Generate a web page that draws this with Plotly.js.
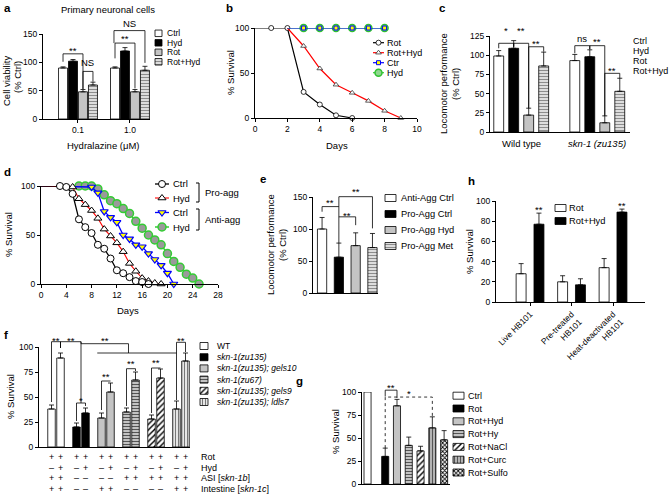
<!DOCTYPE html>
<html>
<head>
<meta charset="utf-8">
<script src="https://cdn.plot.ly/plotly-3.0.1.min.js"></script>
<style>html,body{margin:0;padding:0;background:#fff}#chart{width:670px;height:498px}</style>
</head>
<body>
<div id="chart"></div>
<script>
// multi-panel figure (a-h), hydralazine / skn-1 survival and locomotion
const W = 670, H = 498;
const FONT = 'Liberation Sans, Arial, Helvetica, sans-serif';

// ---------- data ----------
// a: primary neuronal cells
const aDoses = ['0.1', '1.0'];
const aGroups = ['Ctrl', 'Hyd', 'Rot', 'Rot+Hyd'];
const aViability = [[90, 90], [102, 120], [48, 48], [60, 86]];
const aErr = [[2, 2], [3, 6], [4, 4], [5, 7]];

// b: survival on rotenone
const bRotDays = [0, 1, 2, 3, 4, 5, 6];
const bRot = [100, 100, 100, 29, 15, 3, 0];
const bRotHydDays = [2, 3, 4, 5, 6, 7, 8, 9];
const bRotHyd = [100, 80, 55, 37, 28, 19, 8, 0];
const bCtrDays = [2, 3, 4, 5, 6, 7, 8];
const bCtr = [100, 100, 100, 100, 100, 100, 100];
const bHyd = [100, 100, 100, 100, 100, 100, 100];

// c: locomotor performance
const cStrains = ['Wild type', '<i>skn-1 (zu135)</i>'];
const cLoco = [[99, 93], [109, 98], [22, 12], [86, 53]];
const cErr = [[7, 8], [10, 9], [9, 9], [18, 17]];

// d: lifespan, pro- and anti-aggregation strains
const dProCtrlDays = [0, 3, 4, 5, 6, 7, 8, 9, 10, 11, 12, 13, 14, 15, 16, 17];
const dProCtrl = [100, 100, 99, 92, 66, 58, 52, 40, 36, 26, 14, 11, 7, 3, 2, 0];
const dProHydDays = [0, 5, 6, 7, 8, 9, 10, 11, 12, 13, 14, 15, 16, 17, 18, 19];
const dProHyd = [100, 99, 87, 81, 75, 67, 56, 49, 42, 33, 21, 13, 6, 3, 1, 0];
const dAntiCtrlDays = [0, 8, 9, 10, 11, 12, 13, 14, 15, 16, 17, 18, 19, 20, 21];
const dAntiCtrl = [100, 99, 93, 74, 68, 63, 50, 46, 40, 38, 31, 25, 19, 11, 0];
const dAntiHydDays = [0, 6, 7, 8, 9, 10, 11, 12, 13, 14, 15, 16, 17, 18, 19, 20, 21, 22, 23, 24, 25];
const dAntiHyd = [100, 100, 100, 100, 97, 91, 85, 82, 77, 72, 64, 57, 50, 45, 40, 31, 23, 17, 10, 6, 0];

// e
const eGroups = ['Anti-Agg Ctrl', 'Pro-Agg Ctrl', 'Pro-Agg Hyd', 'Pro-Agg Met'];
const eLoco = [100, 56, 74, 71];
const eErr = [18, 22, 20, 22];

// f
const fStrains = ['WT', '<i>skn-1(zu135)</i>', '<i>skn-1(zu135); gels10</i>', '<i>skn-1(zu67)</i>',
                  '<i>skn-1(zu135); gels9</i>', '<i>skn-1(zu135); ldls7</i>'];
const fRot = [38, 20, 29, 35, 28, 38];
const fRotErr = [4, 4, 5, 4, 4, 8];
const fRotHyd = [89, 34, 55, 67, 69, 86];
const fRotHydErr = [5, 5, 9, 8, 9, 8];
const fRowLabels = ['Rot', 'Hyd', 'ASI [<i>skn-1b</i>]', 'Intestine [<i>skn-1c</i>]'];
const fRows = [
  ['++', '++', '++', '++', '++', '++'],
  ['-+', '-+', '-+', '-+', '-+', '-+'],
  ['++', '--', '--', '++', '++', '++'],
  ['++', '--', '++', '--', '--', '++']
];

// g
const gGroups = ['Ctrl', 'Rot', 'Rot+Hyd', 'Rot+Hy', 'Rot+NaCl', 'Rot+Curc', 'Rot+Sulfo'];
const gSurv = [100, 30, 85, 42, 36, 61, 48];
const gErr = [0, 9, 7, 9, 5, 12, 10];

// h
const hFood = ['Live HB101', 'Pre-treated<br>HB101', 'Heat-deactivated<br>HB101'];
const hRot = [28, 20, 34];
const hRotErr = [10, 6, 9];
const hRotHyd = [77, 17, 89];
const hRotHydErr = [11, 6, 3];

// ---------- layout helpers ----------
// plot areas in pixels
const PANELS = {
  a: {n: '',  l: 43,  r: 150, t: 34,  b: 119, xr: [-0.673, 1.385], yr: [0, 150]},
  b: {n: '2', l: 255, r: 417, t: 28,  b: 118, xr: [0, 10], yr: [0, 100]},
  c: {n: '3', l: 490, r: 630, t: 36,  b: 132, xr: [-0.41, 1.43], yr: [0, 125]},
  d: {n: '4', l: 41,  r: 218, t: 186, b: 284, xr: [0, 28], yr: [0, 100]},
  e: {n: '5', l: 313, r: 378, t: 197, b: 293, xr: [-0.54, 3.33], yr: [0, 150]},
  f: {n: '6', l: 39,  r: 190, t: 347, b: 447, xr: [-0.68, 5.36], yr: [0, 100]},
  g: {n: '7', l: 362, r: 450, t: 392, b: 484, xr: [-0.47, 7.0], yr: [0, 100]},
  h: {n: '8', l: 496, r: 645, t: 201, b: 302, xr: [-0.82, 2.77], yr: [0, 100]}
};
const aX = (i, k) => i + (k - 1.5) * 0.192;
const cX = (i, k) => i + (k - 1.5) * 0.197;
const fX = (i, k) => i + (k === 0 ? -0.18 : 0.18);
const gX = k => (k === 0 ? 0 : k + 0.5);
const hX = (i, k) => i + (k === 0 ? -0.215 : 0.215);

const traces = [], shapes = [], annotations = [];
const layout = {
  width: W, height: H, margin: {l: 0, r: 0, t: 0, b: 0},
  paper_bgcolor: '#fff', plot_bgcolor: 'rgba(0,0,0,0)',
  showlegend: false, barmode: 'overlay',
  font: {family: FONT, size: 8.5, color: '#000'},
  shapes, annotations
};
const AX = {showline: true, linecolor: '#000', linewidth: 1, ticks: 'outside', ticklen: 3, tickwidth: 1,
  tickcolor: '#000', showgrid: false, zeroline: false, fixedrange: true,
  tickfont: {family: FONT, size: 8.5, color: '#000'}};

function axes(p, xo, yo) {
  const P = PANELS[p];
  layout['xaxis' + P.n] = Object.assign({}, AX, {domain: [P.l / W, P.r / W], range: P.xr, anchor: 'y' + P.n}, xo);
  layout['yaxis' + P.n] = Object.assign({}, AX, {domain: [1 - P.b / H, 1 - P.t / H], range: P.yr, anchor: 'x' + P.n}, yo);
}
const xp = (p, v) => { const P = PANELS[p]; return P.l + (v - P.xr[0]) / (P.xr[1] - P.xr[0]) * (P.r - P.l); };
const yp = (p, v) => { const P = PANELS[p]; return P.b - (v - P.yr[0]) / (P.yr[1] - P.yr[0]) * (P.b - P.t); };

function txt(x, y, text, o) {
  annotations.push(Object.assign({xref: 'paper', yref: 'paper', x: x / W, y: 1 - y / H, text, showarrow: false,
    xanchor: 'center', yanchor: 'middle', borderpad: 0, font: {family: FONT, size: 9.5, color: '#000'}}, o));
}
function vtxt(x, y, text, size) { txt(x, y, text, {textangle: -90, font: {family: FONT, size: size || 9.5, color: '#000'}}); }
function path(pts, o) {
  shapes.push(Object.assign({type: 'path', xref: 'paper', yref: 'paper',
    path: 'M' + pts.map(q => (q[0] / W) + ',' + (1 - q[1] / H)).join('L'),
    line: {color: '#000', width: 0.8}}, o));
}
// bracket in data units of panel p
function bracket(p, x1, x2, top, y1, y2, o) {
  path([[xp(p, x1), yp(p, y1)], [xp(p, x1), yp(p, top)], [xp(p, x2), yp(p, top)], [xp(p, x2), yp(p, y2)]], o);
}
// significance mark, y = glyph centre in data units
function star(p, x, y, text) {
  const shift = text.indexOf('*') >= 0 ? 2 : 0;
  txt(xp(p, x), yp(p, y) + shift, text, {font: {family: FONT, size: 9.5, color: '#000'}});
}

const EDGE = {color: '#000', width: 0.8};
const S = {
  white: {color: '#fff'},
  black: {color: '#000'},
  gray: {color: '#c4c4c4'},
  hstripe: {color: '#e4e4e4', pattern: {shape: '-', fillmode: 'replace', bgcolor: '#e6e6e6', fgcolor: '#8c8c8c', size: 3, solidity: 0.4}},
  hstripeDark: {color: '#ccc', pattern: {shape: '-', fillmode: 'replace', bgcolor: '#cfcfcf', fgcolor: '#555', size: 3, solidity: 0.4}},
  diag: {color: '#fff', pattern: {shape: '/', fillmode: 'replace', bgcolor: '#fff', fgcolor: '#000', size: 4, solidity: 0.35}},
  vstripe: {color: '#eee', pattern: {shape: '|', fillmode: 'replace', bgcolor: '#f2f2f2', fgcolor: '#777', size: 3, solidity: 0.4}},
  vstripeGray: {color: '#bbb', pattern: {shape: '|', fillmode: 'replace', bgcolor: '#bdbdbd', fgcolor: '#555', size: 3, solidity: 0.4}},
  check: {color: '#fff', pattern: {shape: 'x', fillmode: 'replace', bgcolor: '#fff', fgcolor: '#000', size: 3, solidity: 0.5}}
};

function addBars(p, xs, ys, errs, w, style) {
  const n = PANELS[p].n;
  const t = {type: 'bar', xaxis: 'x' + n, yaxis: 'y' + n, x: xs, y: ys, width: w,
    marker: Object.assign({line: EDGE}, style), hoverinfo: 'skip', showlegend: false, cliponaxis: false};
  if (errs) t.error_y = {type: 'data', symmetric: false, array: errs, arrayminus: errs.map(() => 0),
    color: '#000', thickness: 0.8, width: 2.5};
  traces.push(t);
}
function series(p, xs, ys, st) {
  const n = PANELS[p].n;
  traces.push({type: 'scatter', mode: 'lines+markers', xaxis: 'x' + n, yaxis: 'y' + n, x: xs, y: ys,
    line: st.line, marker: Object.assign({}, st.marker, {opacity: xs.map((_, i) => (i === 0 ? 0 : 1))}),
    cliponaxis: false, hoverinfo: 'skip', showlegend: false});
}
// legend pieces drawn on a full-page pixel axis
layout.xaxis9 = {domain: [0, 1], range: [0, W], visible: false, fixedrange: true, anchor: 'y9'};
layout.yaxis9 = {domain: [0, 1], range: [H, 0], visible: false, fixedrange: true, anchor: 'x9'};
function swatch(x, y, w, h, style) {
  traces.push({type: 'bar', xaxis: 'x9', yaxis: 'y9', x: [x + w / 2], y: [h], base: [y - h / 2], width: [w],
    marker: Object.assign({line: EDGE}, style), hoverinfo: 'skip', showlegend: false});
}
function lineKey(x0, x1, y, st) {
  traces.push({type: 'scatter', mode: 'lines', xaxis: 'x9', yaxis: 'y9', x: [x0, x1], y: [y, y], line: st.line, hoverinfo: 'skip', showlegend: false});
  traces.push({type: 'scatter', mode: 'markers', xaxis: 'x9', yaxis: 'y9', x: [(x0 + x1) / 2], y: [y], marker: st.marker, hoverinfo: 'skip', showlegend: false});
}
const LEG = size => ({xanchor: 'left', font: {family: FONT, size: size || 9, color: '#000'}});

// ---------- panel letters ----------
[['a', 3, 8], ['b', 225, 8], ['c', 438, 8], ['d', 3, 172], ['e', 259, 179], ['f', 3, 335], ['g', 295, 381], ['h', 467, 181]]
  .forEach(l => txt(l[1], l[2], '<b>' + l[0] + '</b>', {xanchor: 'left', font: {family: FONT, size: 11.5, color: '#000'}}));

// ---------- a ----------
axes('a', {tickvals: [0, 1], ticktext: aDoses}, {tickvals: [0, 50, 100, 150]});
const aStyles = [S.white, S.black, S.gray, S.hstripe];
aGroups.forEach((g, k) => addBars('a', aDoses.map((_, i) => aX(i, k)), aViability[k], aErr[k], 0.173, aStyles[k]));
txt(108, 9, 'Primary neuronal cells');
txt(103, 145, 'Hydralazine (\u03bcM)');
vtxt(6, 81, 'Cell viability');
vtxt(17, 77, '(% Ctrl)');
aGroups.forEach((g, k) => { swatch(155, 33.3 + k * 9.5, 7, 6.5, aStyles[k]); txt(166, 33.3 + k * 9.5, g, LEG(8.5)); });
bracket('a', aX(0, 0), aX(0, 2), 115, 101, 53);
star('a', (aX(0, 0) + aX(0, 2)) / 2, 125, '**');
bracket('a', aX(0, 2), aX(0, 3), 84, 53, 66);
star('a', (aX(0, 2) + aX(0, 3)) / 2, 99, 'NS');
bracket('a', aX(1, 0), aX(1, 2), 134, 107, 54);
star('a', (aX(1, 0) + aX(1, 2)) / 2, 145, '**');
bracket('a', aX(1, 0) - 0.02, aX(1, 3), 156, 134, 99);
star('a', (aX(1, 0) + aX(1, 3)) / 2, 169, 'NS');

// ---------- b ----------
axes('b', {dtick: 2}, {tickvals: [0, 50, 100]});
const bSt = {
  rot: {line: {color: '#000', width: 1.2}, marker: {symbol: 'circle', size: 5, color: '#fff', line: {color: '#000', width: 0.8}}},
  rotHyd: {line: {color: '#ff0000', width: 1.2}, marker: {symbol: 'triangle-up', size: 5, color: '#fff', line: {color: '#333', width: 0.8}}},
  ctr: {line: {color: '#0000ff', width: 1.2}, marker: {symbol: 'square', size: 4, color: '#ffff00', line: {color: '#0000ff', width: 1}}},
  hyd: {line: {color: '#33cc33', width: 1.2}, marker: {symbol: 'circle', size: 7, color: '#8fd68f', line: {color: '#2fc02f', width: 1.5}}}
};
series('b', bRotDays, bRot, bSt.rot);
series('b', bRotHydDays, bRotHyd, bSt.rotHyd);
series('b', bCtrDays, bHyd, bSt.hyd);
series('b', bCtrDays, bCtr, bSt.ctr);
vtxt(230, 73, '% Survival');
txt(337, 145, 'Days');
[['Rot', bSt.rot], ['Rot+Hyd', bSt.rotHyd], ['Ctr', bSt.ctr], ['Hyd', bSt.hyd]].forEach((e, k) => {
  lineKey(373, 384, 42.7 + k * 10, e[1]); txt(386, 42.7 + k * 10, e[0], LEG(9));
});

// ---------- c ----------
axes('c', {ticks: '', showticklabels: false}, {tickvals: [0, 25, 50, 75, 100, 125]});
const cStyles = [S.white, S.black, S.gray, S.hstripe];
aGroups.forEach((g, k) => addBars('c', cStrains.map((_, i) => cX(i, k)), cLoco[k], cErr[k], 0.13, cStyles[k]));
cStrains.forEach((s, i) => txt(xp('c', i), 143, s));
vtxt(443, 84, 'Locomotor performance');
vtxt(455, 84, '(% Ctrl)');
aGroups.forEach((g, k) => txt(632, 41 + k * 10, g, LEG(9)));
bracket('c', cX(0, 0), cX(0, 1), 115.5, 109, 111);
bracket('c', cX(0, 1), cX(0, 2), 115.5, 111, 31);
bracket('c', cX(0, 2), cX(0, 3), 111, 31, 104.6);
star('c', (cX(0, 0) + cX(0, 1)) / 2, 135, '*');
star('c', (cX(0, 1) + cX(0, 2)) / 2, 135, '**');
star('c', (cX(0, 2) + cX(0, 3)) / 2, 117.6, '**');
bracket('c', cX(1, 0), cX(1, 1), 112.4, 102.5, 107.7);
bracket('c', cX(1, 1), cX(1, 2), 112.4, 107.7, 21);
bracket('c', cX(1, 2), cX(1, 3), 76.4, 21, 70);
star('c', (cX(1, 0) + cX(1, 1)) / 2, 122, 'ns');
star('c', (cX(1, 1) + cX(1, 2)) / 2, 120.7, '**');
star('c', (cX(1, 2) + cX(1, 3)) / 2, 83, '**');

// ---------- d ----------
axes('d', {dtick: 4}, {tickvals: [0, 50, 100]});
const dSt = {
  proCtrl: {line: {color: '#000', width: 1.3}, marker: {symbol: 'circle', size: 7, color: '#fff', line: {color: '#000', width: 1}}},
  proHyd: {line: {color: '#ff0000', width: 1.1}, marker: {symbol: 'triangle-up', size: 7, color: '#fff', line: {color: '#000', width: 1}}},
  antiCtrl: {line: {color: '#0000ff', width: 1.3}, marker: {symbol: 'triangle-down', size: 7, color: '#ffff00', line: {color: '#0000ff', width: 1.2}}},
  antiHyd: {line: {color: '#33cc33', width: 1.5}, marker: {symbol: 'circle', size: 8, color: '#9a9a9a', line: {color: '#33cc33', width: 1.5}}}
};
series('d', dAntiHydDays, dAntiHyd, dSt.antiHyd);
series('d', dAntiCtrlDays, dAntiCtrl, dSt.antiCtrl);
series('d', dProHydDays, dProHyd, dSt.proHyd);
series('d', dProCtrlDays, dProCtrl, dSt.proCtrl);
vtxt(8, 235, '% Survival');
txt(128, 310, 'Days');
[['Ctrl', dSt.proCtrl], ['Hyd', dSt.proHyd], ['Ctrl', dSt.antiCtrl], ['Hyd', dSt.antiHyd]].forEach((e, k) => {
  const y = [184, 198, 212.5, 227][k];
  lineKey(155, 169, y, e[1]); txt(172, y, e[0], LEG(9.5));
});
path([[196, 183], [199, 183], [199, 202], [196, 202]], {line: {color: '#000', width: 1}});
path([[196, 209], [199, 209], [199, 230], [196, 230]], {line: {color: '#000', width: 1}});
txt(204, 193, 'Pro-agg', LEG(9.5));
txt(204, 220, 'Anti-agg', LEG(9.5));

// ---------- e ----------
axes('e', {ticks: '', showticklabels: false}, {tickvals: [0, 50, 100, 150]});
const eStyles = [S.white, S.black, S.gray, S.hstripe];
eGroups.forEach((g, k) => addBars('e', [k], [eLoco[k]], [eErr[k]], 0.55, eStyles[k]));
vtxt(270, 245, 'Locomotor performance');
vtxt(282, 245, '(% Ctrl)');
eGroups.forEach((g, k) => { const y = 198 + k * 16; swatch(385, y, 11, 7, eStyles[k]); txt(400, y, g, LEG(9.3)); });
bracket('e', 0, 1, 135, 127, 135);
path([[xp('e', 1), yp('e', eLoco[1] + eErr[1])], [xp('e', 1), yp('e', 150.5)]]);
bracket('e', 1, 3, 150.5, 150.5, 101);
bracket('e', 1, 2, 119, 119, 106);
star('e', 0.5, 145, '**');
star('e', 2, 162.5, '**');
star('e', 1.5, 124.5, '**');

// ---------- f ----------
axes('f', {ticks: '', showticklabels: false}, {tickvals: [0, 25, 50, 75, 100]});
const fStyles = [S.white, S.black, S.gray, S.hstripeDark, S.diag, S.vstripe];
fStrains.forEach((s, i) => {
  addBars('f', [fX(i, 0), fX(i, 1)], [fRot[i], fRotHyd[i]], [fRotErr[i], fRotHydErr[i]], 0.3, fStyles[i]);
});
vtxt(10, 397, '% Survival');
fStrains.forEach((s, k) => { const y = 346 + k * 11.2; swatch(200, y, 8, 7, fStyles[k]); txt(216, y, s, LEG(8.5)); });
const fRowY = [457, 467.5, 478, 489];
fRows.forEach((row, r) => {
  row.forEach((pair, i) => [0, 1].forEach(k => txt(xp('f', fX(i, k)), fRowY[r], pair[k] === '+' ? '+' : '\u2013', {font: {family: FONT, size: 9, color: '#000'}})));
  txt(200, fRowY[r], fRowLabels[r], LEG(9));
});
bracket('f', fX(0, 0), fX(0, 1), 105.3, 45, 99);
star('f', 0, 109, '**');
bracket('f', fX(0, 1), 1, 105.3, 99, 44);
star('f', (fX(0, 1) + 1) / 2, 109, '**');
bracket('f', fX(1, 0), fX(1, 1), 44, 26, 41);
star('f', 1, 49, '*');
bracket('f', 1, 2.9, 103.3, 105.3, 94);
path([[xp('f', 1.65), yp('f', 94)], [xp('f', 4.82), yp('f', 94)]]);
star('f', 1.96, 109, '**');
bracket('f', fX(2, 0), fX(2, 1), 66, 37, 66);
star('f', 2, 73, '**');
bracket('f', fX(3, 0), fX(3, 1), 78.3, 41, 76);
star('f', 3, 86, '**');
bracket('f', fX(4, 0), fX(4, 1), 79, 34, 79);
star('f', 4, 87, '**');
bracket('f', fX(5, 0), fX(5, 1), 104.7, 47, 95);
star('f', 5, 109, '**');

// ---------- g ----------
axes('g', {ticks: '', showticklabels: false}, {tickvals: [0, 25, 50, 75, 100]});
const gStyles = [S.white, S.black, S.gray, S.hstripeDark, S.diag, S.vstripeGray, S.check];
gGroups.forEach((g, k) => addBars('g', [gX(k)], [gSurv[k]], gErr[k] ? [gErr[k]] : null, 0.6, gStyles[k]));
vtxt(335, 432, '% Survival');
gGroups.forEach((g, k) => { const y = 395.7 + k * 12.8; swatch(453, y, 11, 7, gStyles[k]); txt(467, y, g, LEG(9)); });
bracket('g', gX(1), gX(2), 102, 95, 93.5);
star('g', (gX(1) + gX(2)) / 2, 107.6, '**');
bracket('g', gX(1), gX(5), 94.5, gSurv[1] + gErr[1], gSurv[5] + gErr[5] - 1, {line: {color: '#000', width: 0.8, dash: 'dot'}});
star('g', (gX(1) + gX(5)) / 2, 101, '*');

// ---------- h ----------
axes('h', {tickvals: [0, 1, 2], ticktext: hFood, tickangle: -45}, {tickvals: [0, 20, 40, 60, 80, 100]});
addBars('h', hFood.map((_, i) => hX(i, 0)), hRot, hRotErr, 0.24, S.white);
addBars('h', hFood.map((_, i) => hX(i, 1)), hRotHyd, hRotHydErr, 0.24, S.black);
vtxt(470, 252, '% Survival');
[['Rot', S.white], ['Rot+Hyd', S.black]].forEach((e, k) => { const y = 208 + k * 13; swatch(555, y, 11, 7, e[1]); txt(568, y, e[0], LEG(9.3)); });
star('h', hX(0, 1), 94, '**');
star('h', hX(2, 1), 97.5, '**');

Plotly.newPlot('chart', traces, layout, {staticPlot: true, displayModeBar: false});
</script>
</body>
</html>
